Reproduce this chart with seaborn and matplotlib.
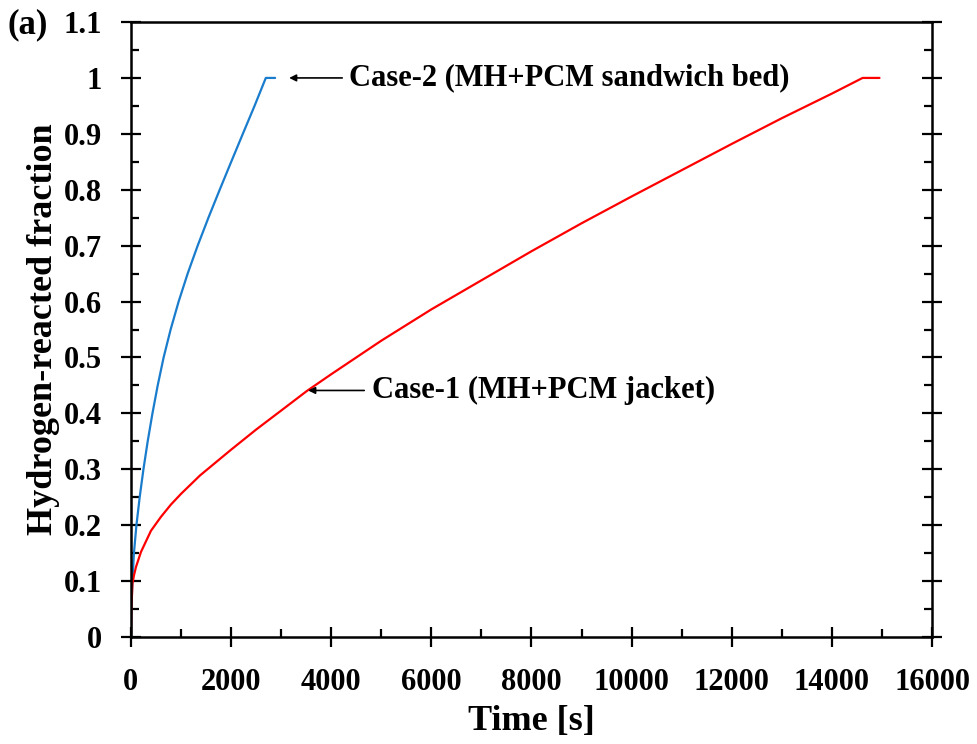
import pandas as pd
import matplotlib.pyplot as plt
import seaborn as sns
from matplotlib.ticker import MultipleLocator

# Case-2 (MH+PCM sandwich bed)
case2_time = [0, 8, 30, 60, 110, 175, 250, 335, 430, 535, 653, 793, 953,
              1133, 1333, 1548, 1773, 2003, 2235, 2469, 2694, 2880]
case2_frac = [0, 0.05, 0.1, 0.15, 0.2, 0.25, 0.3, 0.35, 0.4, 0.45, 0.5, 0.55, 0.6,
              0.65, 0.7, 0.75, 0.8, 0.85, 0.9, 0.95, 1.0, 1.0]

# Case-1 (MH+PCM jacket)
case1_time = [0, 10, 30, 60, 100, 200, 400, 600, 800, 1000, 1380, 2000, 2500,
              3000, 3513, 4000, 5000, 6000, 7000, 8000, 9000, 10000, 11000,
              12000, 13000, 14000, 14613, 14950]
case1_frac = [0, 0.05, 0.095, 0.11, 0.125, 0.152, 0.19, 0.215, 0.237, 0.256, 0.289,
              0.335, 0.371, 0.405, 0.440, 0.470, 0.530, 0.586, 0.638, 0.690, 0.740,
              0.788, 0.835, 0.882, 0.928, 0.972, 1.0, 1.0]

df2 = pd.DataFrame({'t': case2_time, 'x': case2_frac})
df1 = pd.DataFrame({'t': case1_time, 'x': case1_frac})

sns.set_style('ticks')
plt.rcParams['font.family'] = ['Liberation Serif', 'DejaVu Serif']
plt.rcParams['font.weight'] = 'bold'
plt.rcParams['text.color'] = 'black'
plt.rcParams['axes.labelcolor'] = 'black'

fig = plt.figure(figsize=(9.77, 7.44), dpi=100)
ax = fig.add_axes([0.134, 0.1438, 0.82, 0.8266])

sns.lineplot(data=df2, x='t', y='x', color='#1a7ccc', lw=1.6, estimator=None, ax=ax)
sns.lineplot(data=df1, x='t', y='x', color='#ff0000', lw=1.6, estimator=None, ax=ax)

ax.set_xlim(0, 16000)
ax.set_ylim(0, 1.1)
ax.xaxis.set_major_locator(MultipleLocator(2000))
ax.xaxis.set_minor_locator(MultipleLocator(1000))
ax.yaxis.set_minor_locator(MultipleLocator(0.05))
ax.set_yticks([0, 0.1, 0.2, 0.3, 0.4, 0.5, 0.6, 0.7, 0.8, 0.9, 1.0, 1.1],
              ['0', '0.1', '0.2', '0.3', '0.4', '0.5', '0.6', '0.7', '0.8', '0.9', '1', '1.1'])

for s in ax.spines.values():
    s.set_linewidth(1.8)
    s.set_color('black')
ax.tick_params(which='major', direction='inout', length=14, width=1.6,
               labelsize=22, right=True, top=False, colors='black')
ax.tick_params(which='minor', direction='in', length=6, width=1.6,
               right=True, top=False, colors='black')
ax.tick_params(axis='x', which='major', pad=15)
ax.tick_params(axis='y', which='major', pad=14)
for lab in ax.get_xticklabels() + ax.get_yticklabels():
    lab.set_fontweight('bold')

ax.set_xlabel('Time [s]', fontsize=26, fontweight='bold', labelpad=6)
ax.set_ylabel('Hydrogen-reacted fraction', fontsize=26, fontweight='bold', labelpad=2)

arrow = dict(arrowstyle='-|>', color='black', lw=1.2, mutation_scale=10, shrinkA=0, shrinkB=0)
ax.annotate('', xy=(3160, 1.0), xytext=(4220, 1.0), arrowprops=arrow)
ax.text(4360, 1.0, 'Case-2 (MH+PCM sandwich bed)', fontsize=22, fontweight='bold',
        va='center', ha='left')
ax.annotate('', xy=(3540, 0.441), xytext=(4660, 0.441), arrowprops=arrow)
ax.text(4820, 0.441, 'Case-1 (MH+PCM jacket)', fontsize=22, fontweight='bold',
        va='center', ha='left')

fig.text(0.008, 1 - 25 / 744, '(a)', fontsize=25, fontweight='bold', va='center', ha='left')

fig.savefig('out.png', dpi=100)
